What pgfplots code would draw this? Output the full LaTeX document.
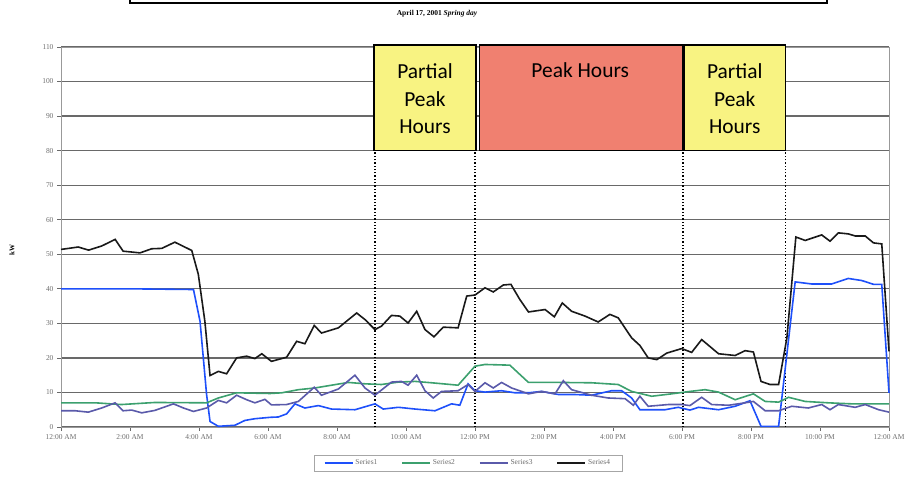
\documentclass[border=0pt]{standalone}
\usepackage{fontspec}
\setmainfont{Liberation Serif}
\newfontfamily\boxfont{Carlito}
\usepackage{pgfplots}
\pgfplotsset{compat=1.18}
\definecolor{sone}{RGB}{30,80,250}
\definecolor{stwo}{RGB}{60,160,110}
\definecolor{sthree}{RGB}{90,90,170}
\definecolor{sfour}{RGB}{25,25,25}
\definecolor{pyel}{RGB}{248,243,130}
\definecolor{pred}{RGB}{240,128,112}
\definecolor{gridc}{RGB}{105,105,105}
\definecolor{tickc}{RGB}{110,110,110}
\begin{document}
\begin{tikzpicture}
\useasboundingbox (0,0) rectangle (912bp,491bp);
\draw[line width=1.3bp] (130bp,496bp) -- (130bp,488bp) -- (827bp,488bp) -- (827bp,496bp);
\node[font=\fontsize{7.5}{8}\selectfont\bfseries] at (437bp,477bp) {April 17, 2001 \textit{Spring day}};
\node[rotate=90,font=\fontsize{7}{8}\selectfont\bfseries] at (12bp,241bp) {kW};
\begin{axis}[
  at={(61bp,64bp)}, anchor=south west,
  scale only axis, width=828bp, height=380bp,
  xmin=0, xmax=24, ymin=0, ymax=110,
  xtick={0,2,...,24},
  xticklabels={12:00 AM,2:00 AM,4:00 AM,6:00 AM,8:00 AM,10:00 AM,12:00 PM,2:00 PM,4:00 PM,6:00 PM,8:00 PM,10:00 PM,12:00 AM},
  ytick={0,10,...,110},
  /pgf/number format/assume math mode=true,
  ticklabel style={font=\fontsize{7.5}{8}\selectfont, text=tickc},
  xtick pos=bottom, ytick pos=left, tick align=outside,
  major tick length=4bp,
  tick style={gridc, line width=0.8bp},
  ymajorgrids, major grid style={gridc, line width=1.2bp},
  axis line style={gray!80, line width=0.9bp},
  clip=false,
  legend columns=4,
  legend style={at={(0.4915,-0.095)}, anchor=center, draw=gray!70, line width=0.6bp,
    font=\fontsize{7.5}{9}\selectfont\color{tickc}, inner xsep=10bp, inner ysep=2.5bp,
    /tikz/every even column/.append style={column sep=22bp}},
  legend image code/.code={\draw[#1] (0bp,0bp) -- (28bp,0bp);},
]
% peak boxes
\draw[fill=pyel, line width=1.2bp] (axis cs:9.07,80) rectangle (axis cs:12.03,110.6);
\draw[fill=pred, line width=1.2bp] (axis cs:12.12,80) rectangle (axis cs:18.03,110.6);
\draw[fill=pyel, line width=1.2bp] (axis cs:18.07,80) rectangle (axis cs:20.99,110.6);
\node[font=\boxfont\fontsize{21.5}{22}\selectfont] at (axis cs:10.55,103.0) {Partial};
\node[font=\boxfont\fontsize{21.5}{22}\selectfont] at (axis cs:10.55,95.0) {Peak};
\node[font=\boxfont\fontsize{21.5}{22}\selectfont] at (axis cs:10.55,87.0) {Hours};
\node[font=\boxfont\fontsize{21.5}{22}\selectfont] at (axis cs:15.05,103.3) {Peak Hours};
\node[font=\boxfont\fontsize{21.5}{22}\selectfont] at (axis cs:19.53,103.0) {Partial};
\node[font=\boxfont\fontsize{21.5}{22}\selectfont] at (axis cs:19.53,95.0) {Peak};
\node[font=\boxfont\fontsize{21.5}{22}\selectfont] at (axis cs:19.53,87.0) {Hours};
\draw[dotted, line width=1.3bp] (axis cs:9.1,0) -- (axis cs:9.1,80);
\draw[dotted, line width=1.3bp] (axis cs:12.0,0) -- (axis cs:12.0,80);
\draw[dotted, line width=1.3bp] (axis cs:18.03,0) -- (axis cs:18.03,80);
\draw[dotted, line width=1.3bp] (axis cs:20.99,0) -- (axis cs:20.99,80);

\addplot[sone, line width=1.6bp] coordinates {
(0,40) (2,40) (3.84,39.8) (4.03,30.6) (4.22,9.4) (4.32,1.6) (4.56,0.2) (5.04,0.5) (5.33,1.9) (5.62,2.4)
(6.06,2.8) (6.3,2.9) (6.54,3.8) (6.78,6.7) (7.07,5.5) (7.46,6.2) (7.84,5.2) (8.52,5.0) (9.1,6.7) (9.34,5.2)
(9.78,5.7) (10.26,5.2) (10.84,4.7) (11.32,6.7) (11.56,6.3) (11.8,12.5) (12.0,10.5) (12.29,10.1) (12.77,10.5)
(13.16,9.9) (13.55,9.9) (13.93,10.3) (14.42,9.4) (14.9,9.4) (15.38,9.2) (15.96,10.5) (16.25,10.5) (16.54,8.4)
(16.78,5.0) (17.12,5.0) (17.51,5.0) (17.89,5.7) (18.23,4.9) (18.48,5.7) (19.06,5.0) (19.54,6.0) (19.97,7.6)
(20.29,0.2) (20.8,0.2) (21.28,42.0) (21.76,41.4) (22.34,41.4) (22.82,43.0) (23.21,42.4) (23.55,41.3)
(23.79,41.3) (24.0,9.9)};
\addlegendentry{Series1}
\addplot[stwo, line width=1.6bp] coordinates {
(0,7.0) (1.0,7.0) (1.75,6.5) (2.72,7.1) (4.22,7.0) (4.56,8.4) (5.09,9.9) (6.06,9.7) (6.4,9.9) (6.88,10.8)
(7.36,11.3) (7.84,12.1) (8.33,12.9) (8.81,12.5) (9.29,12.3) (9.78,13.0) (10.26,13.2) (10.74,12.8) (11.51,12.1)
(12.0,17.6) (12.29,18.1) (13.01,17.9) (13.55,12.9) (14.42,12.9) (15.38,12.8) (16.15,12.3) (16.54,10.3)
(17.12,8.9) (17.7,9.6) (18.23,10.3) (18.67,10.8) (19.06,10.1) (19.54,7.9) (20.07,9.6) (20.41,7.4) (20.8,7.2)
(21.09,8.6) (21.57,7.4) (22.24,7.0) (22.92,6.7) (24.0,6.7)};
\addlegendentry{Series2}
\addplot[sthree, line width=1.6bp] coordinates {
(0,4.7) (0.41,4.7) (0.79,4.3) (1.18,5.5) (1.57,7.0) (1.8,4.7) (2.05,4.9) (2.34,4.1) (2.72,4.8) (3.26,6.7)
(3.55,5.5) (3.84,4.5) (4.22,5.5) (4.56,7.7) (4.8,7.0) (5.09,9.2) (5.38,7.9) (5.62,7.0) (5.91,8.0) (6.1,6.4)
(6.54,6.5) (6.88,7.4) (7.34,11.5) (7.55,9.2) (8.04,11.0) (8.52,15.0) (8.81,11.3) (9.1,9.2) (9.58,13.0)
(9.87,13.2) (10.06,12.1) (10.31,15.0) (10.55,10.5) (10.79,8.4) (11.03,10.3) (11.51,10.5) (11.8,12.3)
(12.0,10.3) (12.29,12.8) (12.53,11.3) (12.77,12.9) (13.06,11.3) (13.55,9.6) (13.93,10.3) (14.32,9.6)
(14.56,13.4) (14.8,10.8) (15.38,9.2) (15.86,8.4) (16.35,8.2) (16.59,6.3) (16.78,8.9) (17.02,6.0) (17.6,6.5)
(17.99,6.5) (18.23,6.2) (18.57,8.6) (18.86,6.5) (19.35,6.3) (19.83,7.0) (20.07,7.4) (20.41,4.7) (20.8,4.7)
(21.18,6.0) (21.66,5.5) (22.05,6.5) (22.29,5.0) (22.53,6.5) (23.02,5.7) (23.31,6.5) (23.7,5.0) (24.0,4.3)};
\addlegendentry{Series3}
\addplot[sfour, line width=1.6bp] coordinates {
(0,51.4) (0.5,52.1) (0.8,51.2) (1.18,52.4) (1.57,54.3) (1.8,50.9) (2.29,50.4) (2.63,51.6) (2.92,51.7)
(3.3,53.5) (3.79,51.1) (3.98,44.2) (4.17,30.6) (4.32,14.9) (4.56,16.1) (4.8,15.4) (5.09,20.0) (5.38,20.5)
(5.62,19.8) (5.82,21.2) (6.1,19.0) (6.54,20.2) (6.83,24.8) (7.07,24.1) (7.34,29.4) (7.55,27.2) (8.04,28.7)
(8.57,33.0) (8.81,31.1) (9.1,28.2) (9.29,29.2) (9.58,32.3) (9.82,32.1) (10.06,30.1) (10.31,33.5) (10.55,28.2)
(10.81,26.1) (11.08,28.9) (11.51,28.7) (11.76,37.9) (12.0,38.2) (12.29,40.3) (12.53,39.1) (12.82,41.1)
(13.04,41.3) (13.3,36.9) (13.55,33.3) (14.03,34.0) (14.3,31.9) (14.53,35.9) (14.8,33.5) (15.19,32.1)
(15.57,30.4) (15.91,32.6) (16.15,31.6) (16.54,25.8) (16.78,23.6) (17.02,20.0) (17.27,19.5) (17.56,21.4)
(17.99,22.7) (18.28,21.6) (18.57,25.3) (19.06,21.2) (19.54,20.7) (19.83,22.1) (20.07,21.7) (20.29,13.2)
(20.55,12.3) (20.8,12.3) (21.04,25.8) (21.3,55.0) (21.57,54.0) (22.05,55.6) (22.29,53.8) (22.53,56.2)
(22.82,55.9) (23.02,55.3) (23.31,55.3) (23.55,53.3) (23.79,53.0) (24.0,21.9)};
\addlegendentry{Series4}
\end{axis}
\end{tikzpicture}
\end{document}
